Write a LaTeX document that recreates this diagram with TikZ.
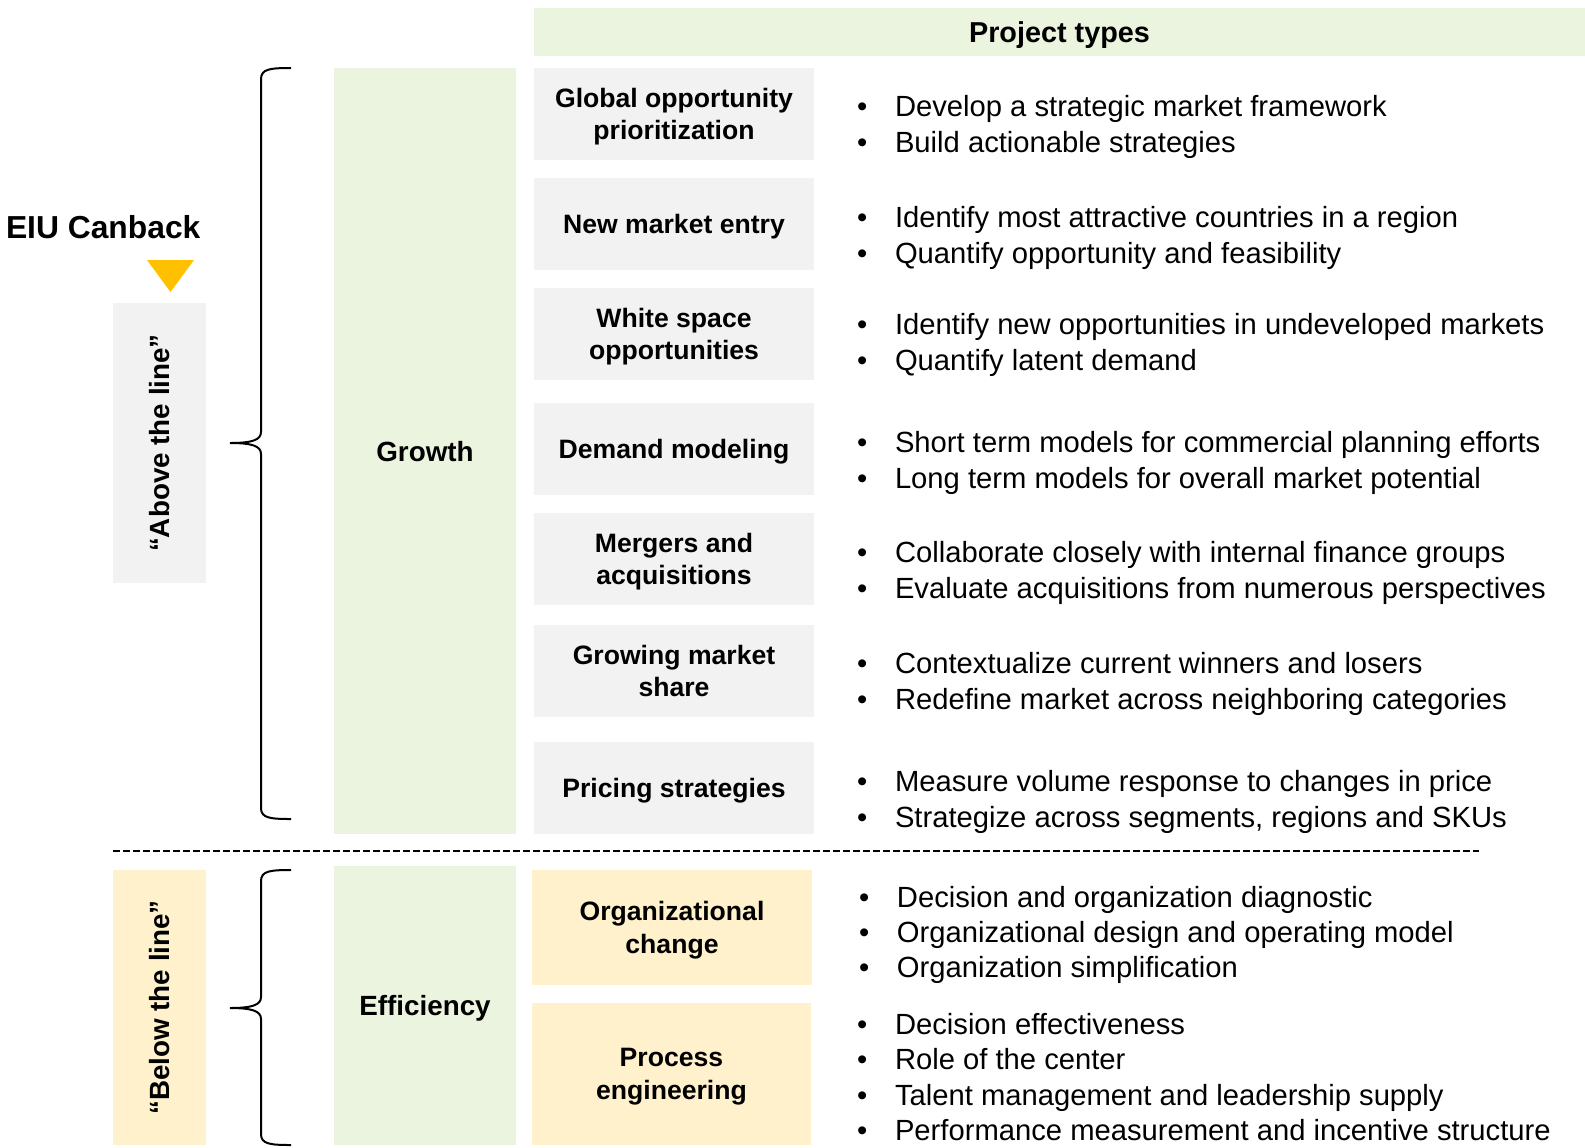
\documentclass[tikz,border=0pt]{standalone}
\usepackage{fontspec}
\setmainfont{Liberation Sans}
\usetikzlibrary{positioning}

\definecolor{lightgreen}{HTML}{EBF4DE}
\definecolor{lightgray}{HTML}{F2F2F2}
\definecolor{lightyellow}{HTML}{FFF1CC}
\definecolor{eiuyellow}{HTML}{FFC000}

% one bulleted line of a list
\newcommand{\bul}[1]{\makebox[19pt][l]{\textbullet}#1}

\begin{document}
\begin{tikzpicture}[
		x=0.5pt, y=-0.5pt,
		every node/.style={inner sep=0, outer sep=0},
		colbox/.style={fill=lightgreen, minimum width=91pt, anchor=north west, text depth=0pt,
			font=\bfseries\fontsize{13.9}{16.5}\selectfont},
		projbox/.style={fill=lightgray, minimum width=140pt, minimum height=46pt, text depth=-1pt,
			anchor=north west, align=center, font=\bfseries\fontsize{13.3}{16.2}\selectfont},
		effbox/.style={projbox, fill=lightyellow},
		sidebox/.style={minimum width=46.5pt, anchor=north west},
		sidelabel/.style={rotate=90, font=\bfseries\fontsize{13.9}{15}\selectfont},
		bullets/.style={anchor=west, align=left, font=\fontsize{14.6}{17.7}\selectfont},
		bracket/.style={draw, line width=1pt},
	]
	\useasboundingbox (0,0) rectangle (1585,1147);

	% left hand side
	\node[anchor=west, font=\bfseries\fontsize{15.9}{18}\selectfont] (eiu) at (6,227) {EIU Canback};
	\fill[eiuyellow] (147,260) -- (194,260) -- (170.5,292) -- cycle;
	\node[sidebox, fill=lightgray, minimum height=140pt] (above) at (113,303) {};
	\node[sidelabel] at (above.center) {“Above the line”};
	\node[sidebox, fill=lightyellow, minimum height=137.5pt] (below) at (113,870) {};
	\node[sidelabel] at (below.center) {“Below the line”};

	% braces
	\draw[bracket] (291,68) .. controls (270,68) and (261,69) .. (261,79)
		-- (261,432) .. controls (261,440) and (252,443) .. (230,443)
		.. controls (252,443) and (261,446) .. (261,454)
		-- (261,808) .. controls (261,818) and (270,819) .. (291,819);
	\draw[bracket] (291,870) .. controls (270,870) and (261,871) .. (261,881)
		-- (261,997) .. controls (261,1005) and (252,1008) .. (230,1008)
		.. controls (252,1008) and (261,1011) .. (261,1019)
		-- (261,1134) .. controls (261,1144) and (270,1145) .. (291,1145);

	% categories
	\node[colbox, minimum height=383pt] (growth) at (334,68) {Growth};
	\node[colbox, minimum height=139.5pt] (efficiency) at (334,866) {Efficiency};

	\node[fill=lightgreen, minimum width=525.5pt, minimum height=24pt, anchor=north west, text depth=0pt,
		font=\bfseries\fontsize{14.4}{16}\selectfont] (header) at (534,8) {Project types};

	% growth projects
	\foreach \n/\y/\txt in {
			1/68/{Global opportunity\\prioritization},
			2/178/{New market entry},
			3/288/{White space\\opportunities},
			4/403/{Demand modeling},
			5/513/{Mergers and\\acquisitions},
			6/625/{Growing market\\share},
			7/742/{Pricing strategies}}
		\node[projbox] (proj\n) at (534,\y) {\txt};

	\foreach \n/\y/\txt in {
			1/127/{\bul{Develop a strategic market framework}\\\bul{Build actionable strategies}},
			2/238/{\bul{Identify most attractive countries in a region}\\\bul{Quantify opportunity and feasibility}},
			3/345/{\bul{Identify new opportunities in undeveloped markets}\\\bul{Quantify latent demand}},
			4/463/{\bul{Short term models for commercial planning efforts}\\\bul{Long term models for overall market potential}},
			5/573/{\bul{Collaborate closely with internal finance groups}\\\bul{Evaluate acquisitions from numerous perspectives}},
			6/684/{\bul{Contextualize current winners and losers}\\\bul{Redefine market across neighboring categories}},
			7/802/{\bul{Measure volume response to changes in price}\\\bul{Strategize across segments, regions and SKUs}}}
		\node[bullets] (list\n) at (857,\y) {\txt};

	\draw[dashed, dash pattern=on 3.5pt off 1.5pt, line width=0.75pt] (113,851) -- (1479,851);

	% efficiency projects
	\node[effbox, minimum width=140pt, minimum height=57.5pt] (org) at (532,870) {Organizational\\change};
	\node[effbox, minimum width=139.5pt, minimum height=71pt] (process) at (532,1003) {Process\\engineering};

	\node[bullets] (list8) at (859,935) {\bul{Decision and organization diagnostic}\\
		\bul{Organizational design and operating model}\\
		\bul{Organization simplification}};
	\node[bullets] (list9) at (857,1077) {\bul{Decision effectiveness}\\
		\bul{Role of the center}\\
		\bul{Talent management and leadership supply}\\
		\bul{Performance measurement and incentive structure}};
\end{tikzpicture}
\end{document}
